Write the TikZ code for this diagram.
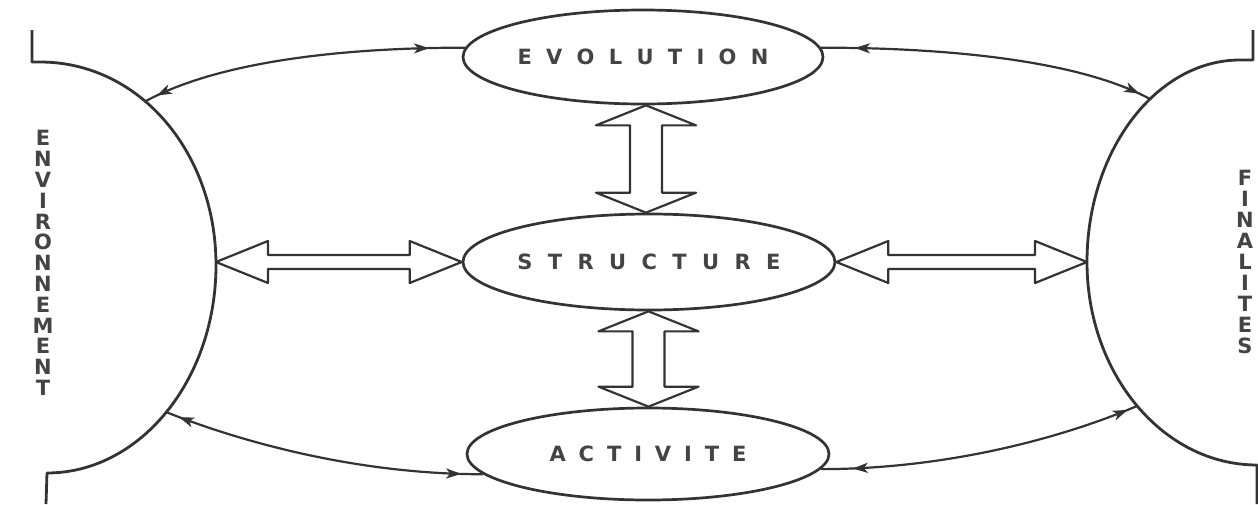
\documentclass[tikz,border=0pt]{standalone}
\usepackage{fontspec}
\newfontfamily\lbl{DejaVu Sans Bold}
\usetikzlibrary{shapes.geometric,arrows.meta,decorations.markings,calc}
\definecolor{ink}{HTML}{333333}
\definecolor{txt}{HTML}{444444}
\ExplSyntaxOn
\NewDocumentCommand\spaced{O{7.16pt}m}{\tl_map_inline:nn{#2}{##1\kern#1}\unkern}
\ExplSyntaxOff
\newcommand\hfat[2]{\draw[fatarrow] let \p1=(#1), \p2=(#2) in
  (\x1,\y1) -- (\x1+26pt,\y1+10.5pt) -- (\x1+26pt,\y1+3.5pt) -- (\x2-26pt,\y1+3.5pt)
  -- (\x2-26pt,\y1+10.5pt) -- (\x2,\y1) -- (\x2-26pt,\y1-10.5pt) -- (\x2-26pt,\y1-3.5pt)
  -- (\x1+26pt,\y1-3.5pt) -- (\x1+26pt,\y1-10.5pt) -- cycle;}
\newcommand\vfat[2]{\draw[fatarrow] let \p1=(#1), \p2=(#2), \p3=($(#1)!0.5!(#2)$) in
  (\x3,\y1) -- (\x3+25pt,\y1-10pt) -- (\x3+8pt,\y1-10pt) -- (\x3+8pt,\y2+10pt)
  -- (\x3+25pt,\y2+10pt) -- (\x3,\y2) -- (\x3-25pt,\y2+10pt) -- (\x3-8pt,\y2+10pt)
  -- (\x3-8pt,\y1-10pt) -- (\x3-25pt,\y1-10pt) -- cycle;}
\begin{document}
\begin{tikzpicture}[x=0.5pt,y=-0.5pt,line join=round,
  bubble/.style={draw=ink,line width=1.35pt,ellipse,inner sep=0pt,text=txt,
    font=\lbl\fontsize{10.5}{12}\selectfont},
  rim/.style={draw=ink,line width=1.4pt},
  fatarrow/.style={draw=ink,line width=1.1pt,fill=white},
  link/.style={draw=ink,line width=1.1pt,postaction={decorate}},
  tip/.tip={Stealth[length=7.5pt,width=5pt,inset=2pt]},
  vlabel/.style={align=center,inner sep=0pt,text=txt}]
\useasboundingbox (0,0) rectangle (1258,504);
% side boundaries
\draw[rim] (32,30) -- (32,62) -- (40,62) .. controls (140,62) and (216,153) .. (216,265)
  .. controls (216,380) and (140,473) .. (47,473) -- (46,504);
\draw[rim] (1253,30) -- (1253,60) -- (1240,60) .. controls (1156,60) and (1087,151) .. (1087,262)
  .. controls (1087,374) and (1163,465) .. (1257,465) -- (1257,504);
\coordinate (envE) at (216,262);
\coordinate (envNE) at (146,101);
\coordinate (envSE) at (166,412);
\coordinate (finW) at (1087,262);
\coordinate (finNW) at (1150,99);
\coordinate (finSW) at (1137,406);
% labels on the sides
\node[vlabel,font=\lbl\fontsize{10.5}{10.4}\selectfont] (envlbl) at (43,263)
  {E\\N\\V\\I\\R\\O\\N\\N\\E\\M\\E\\N\\T};
\node[vlabel,font=\lbl\fontsize{10.5}{10.5}\selectfont] (finlbl) at (1245,262)
  {F\\I\\N\\A\\L\\I\\T\\E\\S};
% central ellipses
\node[bubble,minimum width=180pt,minimum height=47pt] (evo) at (643,57) {\spaced{EVOLUTION}};
\node[bubble,minimum width=182pt,minimum height=48pt] (str) at (649,262) {\spaced[7.69pt]{STRUCTURE}};
\node[bubble,minimum width=181pt,minimum height=46pt] (act) at (648,454) {\spaced[6.46pt]{ACTIVITE}};
% fat double arrows
\vfat{evo.south}{str.north}
\vfat{str.south}{act.north}
\hfat{envE}{str.west}
\hfat{str.east}{finW}
% thin curved links
\draw[link,decoration={markings,mark=at position 18pt with {\arrowreversed{tip}},
  mark=at position -6pt with {\arrow{tip}}}]
  (evo.177) .. controls +(-130,0) and +(70,-38) .. (envNE);
\draw[link,decoration={markings,mark=at position 17pt with {\arrowreversed{tip}},
  mark=at position -6pt with {\arrow{tip}}}]
  (evo.3) .. controls +(130,0) and +(-70,-38) .. (finNW);
\draw[link,decoration={markings,mark=at position 7pt with {\arrowreversed{tip}},
  mark=at position -11pt with {\arrow{tip}}}]
  (envSE) .. controls +(70,28) and +(-130,0) .. (act.187);
\draw[link,decoration={markings,mark=at position 16pt with {\arrowreversed{tip}},
  mark=at position -5pt with {\arrow{tip}}}]
  (act.355) .. controls +(130,0) and +(-70,30) .. (finSW);
\end{tikzpicture}
\end{document}
